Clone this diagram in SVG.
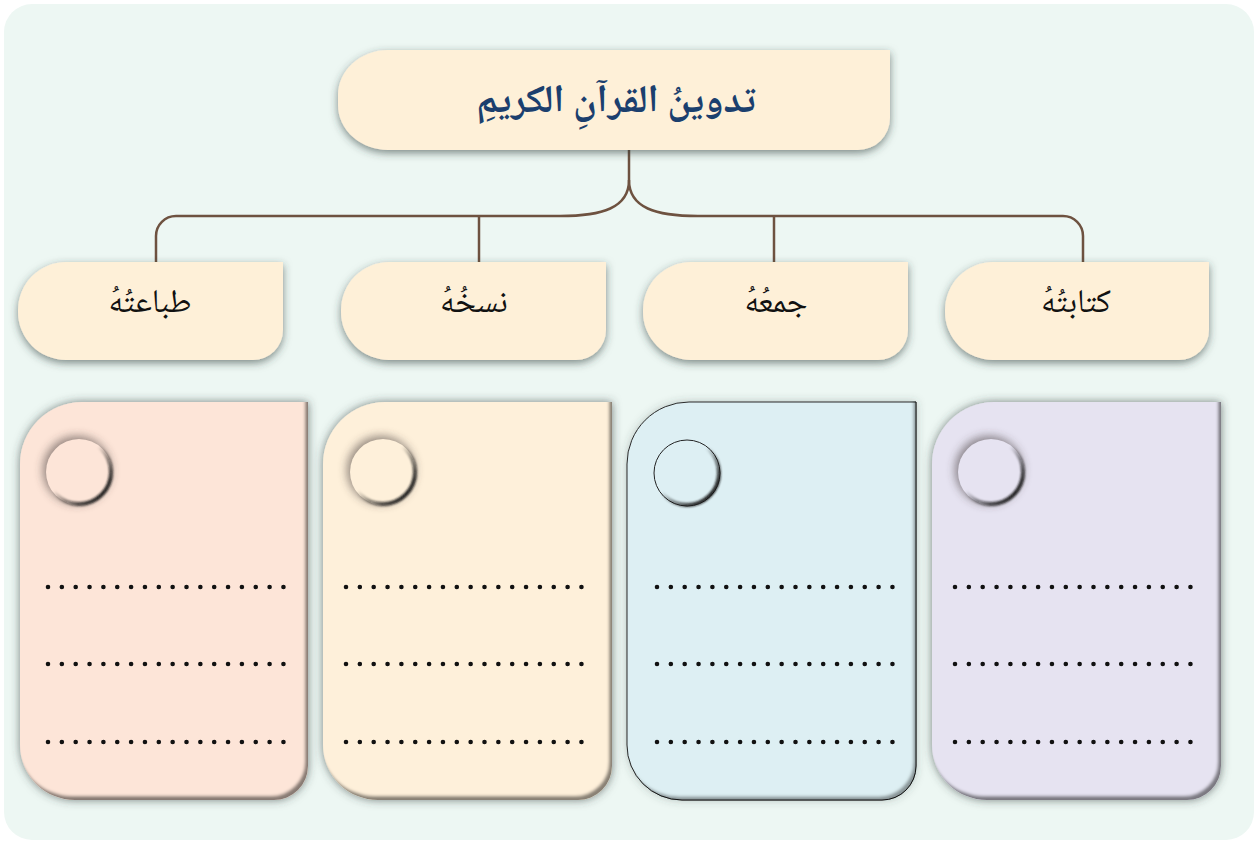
<svg xmlns="http://www.w3.org/2000/svg" width="1258" height="844" viewBox="0 0 1258 844">
  <style>
    .lbl { font-family: 'Noto Naskh Arabic', 'Noto Sans Arabic', 'DejaVu Sans', sans-serif; font-size: 33px; fill: #111; text-anchor: middle; }
    .title { font-family: 'Noto Naskh Arabic', 'Noto Sans Arabic', 'DejaVu Sans', sans-serif; font-size: 39px; font-weight: bold; fill: #1B3F6E; text-anchor: middle; }
    .conn { fill: none; stroke: #6E5240; stroke-width: 2.5; }
    .dots { fill: none; stroke: #111; stroke-width: 4.6; stroke-linecap: round; stroke-dasharray: 0 13.85; }
    .head { fill: #FEF0D8; filter: url(#boxShadow); }
  </style>
  <defs>
    <filter id="boxShadow" x="-10%" y="-20%" width="120%" height="150%">
      <feGaussianBlur in="SourceAlpha" stdDeviation="4" result="b"/>
      <feOffset in="b" dx="0" dy="3" result="ob"/>
      <feFlood flood-color="#2f3f3c" flood-opacity="0.6"/>
      <feComposite in2="ob" operator="in" result="shadow"/>
      <feMerge><feMergeNode in="shadow"/><feMergeNode in="SourceGraphic"/></feMerge>
    </filter>
    <filter id="cardFx" x="-10%" y="-10%" width="120%" height="120%">
      <feGaussianBlur in="SourceAlpha" stdDeviation="5" result="b"/>
      <feFlood flood-color="#34403e" flood-opacity="0.65"/>
      <feComposite in2="b" operator="in" result="shadow"/>
      <feOffset in="SourceAlpha" dx="-3" dy="-4" result="off"/>
      <feGaussianBlur in="off" stdDeviation="1.5" result="offb"/>
      <feComposite in="SourceAlpha" in2="offb" operator="out" result="inner"/>
      <feFlood flood-color="#000" flood-opacity="0.75"/>
      <feComposite in2="inner" operator="in" result="innerc"/>
      <feMerge><feMergeNode in="shadow"/><feMergeNode in="SourceGraphic"/><feMergeNode in="innerc"/></feMerge>
    </filter>
    <filter id="cardFx2" x="-10%" y="-10%" width="120%" height="120%">
      <feGaussianBlur in="SourceAlpha" stdDeviation="4" result="b"/>
      <feFlood flood-color="#3a4a48" flood-opacity="0.3"/>
      <feComposite in2="b" operator="in" result="shadow"/>
      <feOffset in="SourceAlpha" dx="-3" dy="-4" result="off"/>
      <feGaussianBlur in="off" stdDeviation="1.5" result="offb"/>
      <feComposite in="SourceAlpha" in2="offb" operator="out" result="inner"/>
      <feFlood flood-color="#000" flood-opacity="0.65"/>
      <feComposite in2="inner" operator="in" result="innerc"/>
      <feMerge><feMergeNode in="shadow"/><feMergeNode in="SourceGraphic"/><feMergeNode in="innerc"/></feMerge>
    </filter>
    <filter id="halo" x="-50%" y="-50%" width="200%" height="200%">
      <feGaussianBlur stdDeviation="5"/>
    </filter>
    <filter id="soft" x="-20%" y="-20%" width="140%" height="140%">
      <feGaussianBlur stdDeviation="0.8"/>
    </filter>
    <linearGradient id="ring" x1="0" y1="0" x2="1" y2="1">
      <stop offset="0.45" stop-color="#000" stop-opacity="0"/>
      <stop offset="0.8" stop-color="#1a1a1a" stop-opacity="0.9"/>
      <stop offset="1" stop-color="#000" stop-opacity="1"/>
    </linearGradient>
    <g id="circ">
      <circle cx="-2" cy="-2" r="34" fill="#3a3030" opacity="0.55" filter="url(#halo)"/>
    </g>
  </defs>

  <rect x="0" y="0" width="1258" height="844" fill="#ffffff"/>
  <rect x="4" y="4" width="1250" height="836" rx="28" fill="#EDF7F3"/>

  <g id="connectors">
    <path class="conn" d="M629,150 V180 C629,208 602,216 560,216 H176 A20 20 0 0 0 156,236 V262"/>
    <path class="conn" d="M629,180 C629,208 656,216 698,216 H1063 A20 20 0 0 1 1083,236 V262"/>
    <path class="conn" d="M479,216 V262"/>
    <path class="conn" d="M774,216 V262"/>
  </g>

  <g id="title">
    <path class="head" d="M388,50 H890 V118 A32 32 0 0 1 858,150 H388 A50 45 0 0 1 338,105 V95 A50 45 0 0 1 388,50 Z"/>
    <text class="title" x="616" y="112">تدوينُ القرآنِ الكريمِ</text>
  </g>

  <g id="node-printing">
    <path class="head" d="M66,262 H283 V330 A30 30 0 0 1 253,360 H66 A48 48 0 0 1 18,312 V310 A48 48 0 0 1 66,262 Z"/>
    <text class="lbl" x="150" y="312">طباعتُهُ</text>
  </g>
  <g id="node-copying">
    <path class="head" d="M389,262 H606 V330 A30 30 0 0 1 576,360 H389 A48 48 0 0 1 341,312 V310 A48 48 0 0 1 389,262 Z"/>
    <text class="lbl" x="474" y="312">نسخُهُ</text>
  </g>
  <g id="node-collecting">
    <path class="head" d="M691,262 H908 V330 A30 30 0 0 1 878,360 H691 A48 48 0 0 1 643,312 V310 A48 48 0 0 1 691,262 Z"/>
    <text class="lbl" x="776" y="312">جمعُهُ</text>
  </g>
  <g id="node-writing">
    <path class="head" d="M993,262 H1209 V330 A30 30 0 0 1 1179,360 H993 A48 48 0 0 1 945,312 V310 A48 48 0 0 1 993,262 Z"/>
    <text class="lbl" x="1076" y="312">كتابتُهُ</text>
  </g>

  <g id="card-1">
    <path fill="#FDE5D8" filter="url(#cardFx)" d="M82,402 H308 V766 A34 34 0 0 1 274,800 H75 A55 55 0 0 1 20,745 V464 A62 62 0 0 1 82,402 Z"/>
    <use href="#circ" x="79" y="472"/>
    <circle cx="79" cy="472" r="33" fill="#FDE5D8"/>
    <circle cx="79" cy="472" r="32" fill="none" stroke="url(#ring)" stroke-width="4" filter="url(#soft)"/>
    <path class="dots" d="M48,587 H284 M48,664 H284 M48,742 H284"/>
  </g>
  <g id="card-2">
    <path fill="#FEF0DA" filter="url(#cardFx)" d="M385,402 H612 V766 A34 34 0 0 1 578,800 H378 A55 55 0 0 1 323,745 V464 A62 62 0 0 1 385,402 Z"/>
    <use href="#circ" x="383" y="472"/>
    <circle cx="383" cy="472" r="33" fill="#FEF0DA"/>
    <circle cx="383" cy="472" r="32" fill="none" stroke="url(#ring)" stroke-width="4" filter="url(#soft)"/>
    <path class="dots" d="M346,587 H582 M346,664 H582 M346,742 H582"/>
  </g>
  <g id="card-3">
    <path fill="#DDEFF3" stroke="#2a2a2a" stroke-width="1" filter="url(#cardFx2)" d="M689,402 H916 V766 A34 34 0 0 1 882,800 H682 A55 55 0 0 1 627,745 V464 A62 62 0 0 1 689,402 Z"/>
    <circle cx="687" cy="473" r="33" fill="#DDEFF3" stroke="#222" stroke-width="1"/>
    <circle cx="687" cy="473" r="32" fill="none" stroke="url(#ring)" stroke-width="4" filter="url(#soft)"/>
    <path class="dots" d="M657,587 H893 M657,664 H893 M657,742 H893"/>
  </g>
  <g id="card-4">
    <path fill="#E6E3F1" filter="url(#cardFx)" d="M994,402 H1221 V766 A34 34 0 0 1 1187,800 H987 A55 55 0 0 1 932,745 V464 A62 62 0 0 1 994,402 Z"/>
    <use href="#circ" x="991" y="472"/>
    <circle cx="991" cy="472" r="33" fill="#E6E3F1"/>
    <circle cx="991" cy="472" r="32" fill="none" stroke="url(#ring)" stroke-width="4" filter="url(#soft)"/>
    <path class="dots" d="M955,587 H1191 M955,664 H1191 M955,742 H1191"/>
  </g>
</svg>
